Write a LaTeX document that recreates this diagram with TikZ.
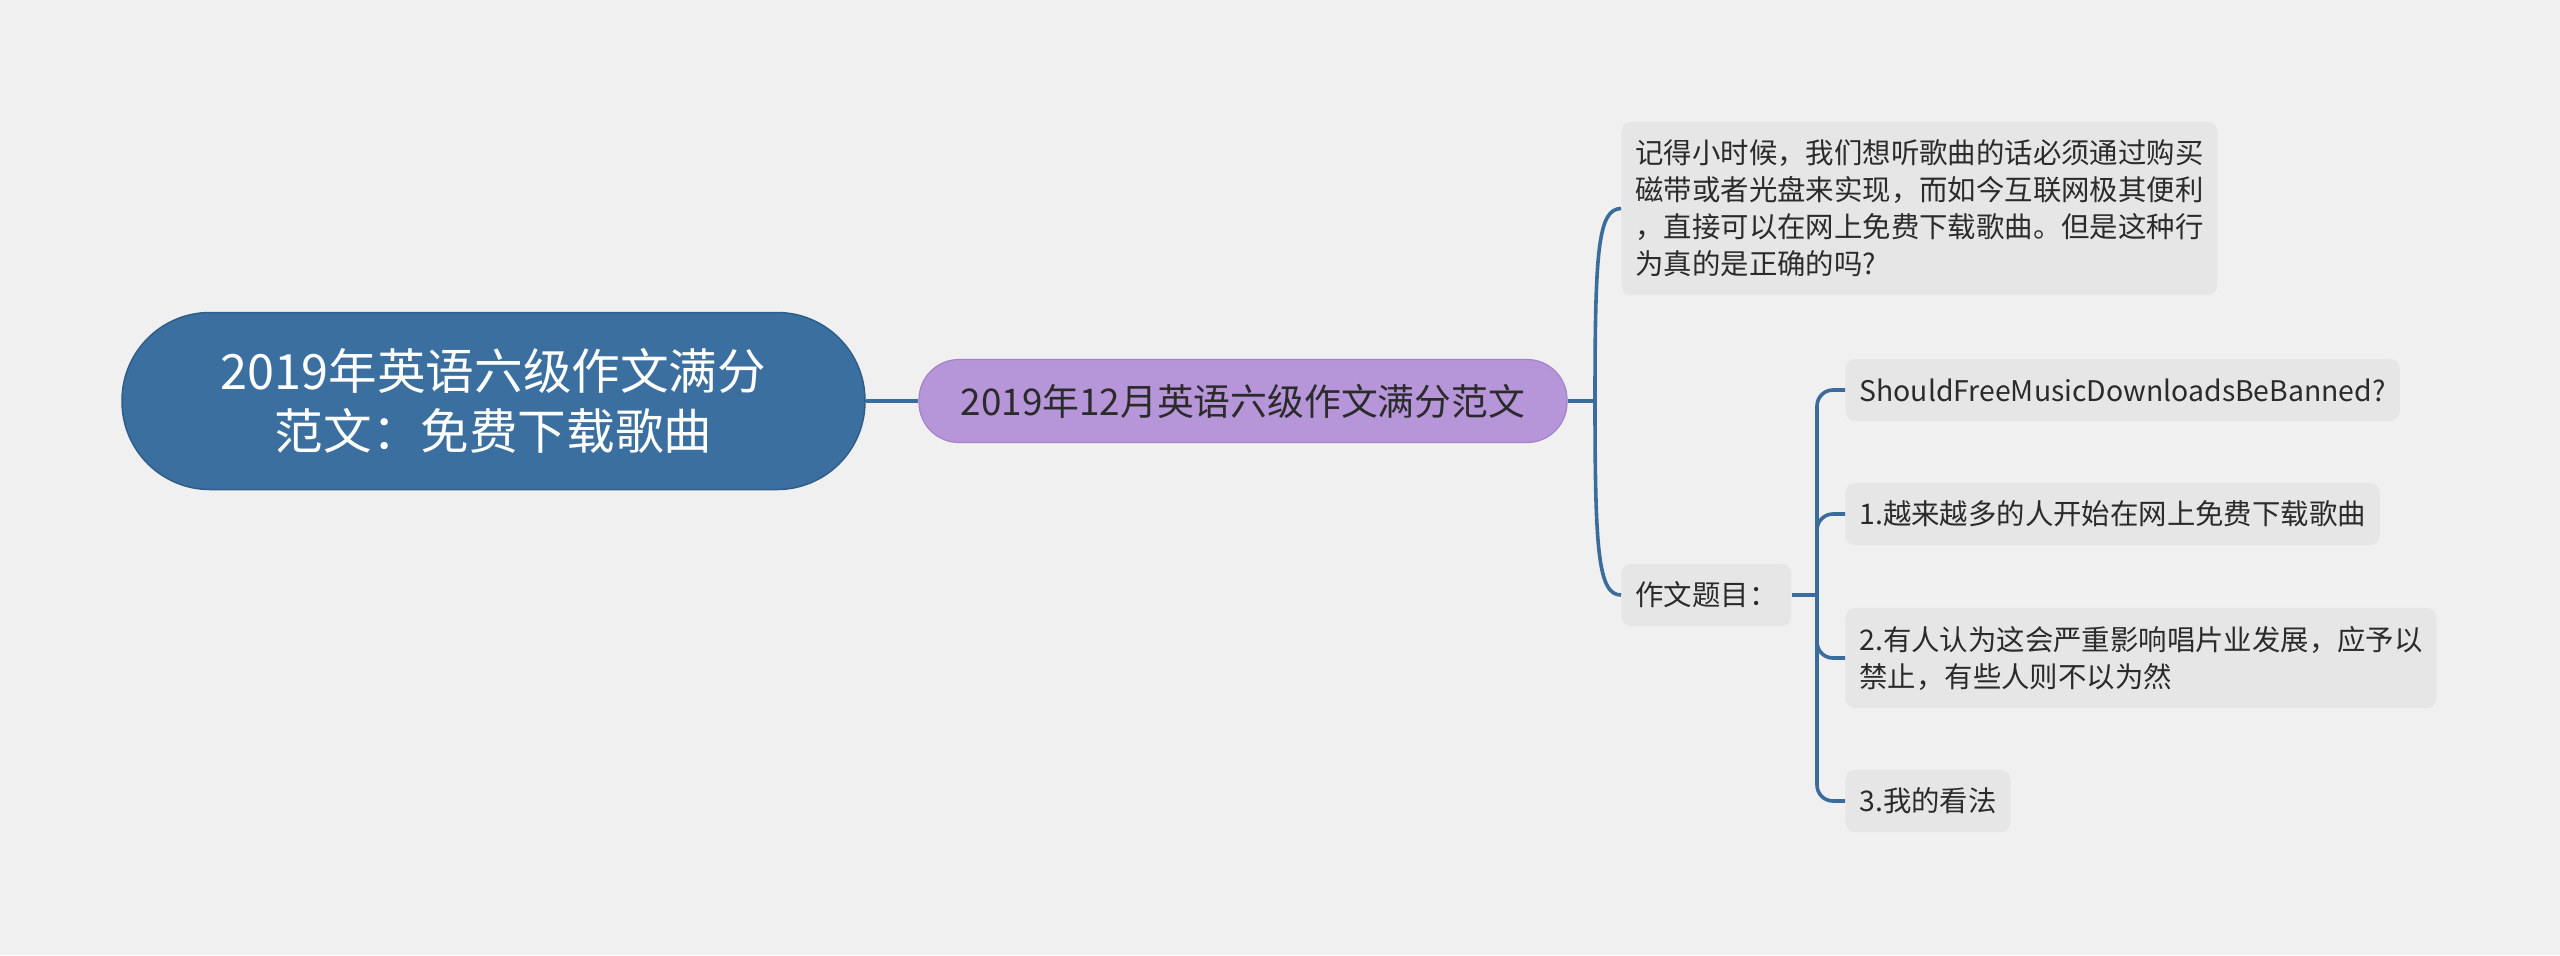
\documentclass[tikz,border=0pt]{standalone}
\usepackage{fontspec}
\setmainfont{Noto Sans CJK SC}
\definecolor{bg}{HTML}{F0F0F0}
\definecolor{rootblue}{HTML}{3B6F9F}
\definecolor{rootborder}{HTML}{2E5E8A}
\definecolor{subpurple}{HTML}{B696D8}
\definecolor{subborder}{HTML}{A483C9}
\definecolor{leafgray}{HTML}{E6E6E6}
\definecolor{textdark}{HTML}{2B2B2B}
\definecolor{connblue}{HTML}{3A6D9C}
\begin{document}
\begin{tikzpicture}[x=0.5pt,y=-0.5pt,
  rootbox/.style={fill=rootblue, draw=rootborder, line width=0.75pt, rounded corners=44pt,
    minimum width=371.5pt, minimum height=88.5pt, text=white, align=center,
    font=\fontsize{24.3pt}{30pt}\selectfont, inner sep=0pt},
  subbox/.style={fill=subpurple, draw=subborder, line width=0.6pt, rounded corners=20pt,
    minimum width=324pt, minimum height=41.5pt, text=textdark,
    font=\fontsize{18.4pt}{22pt}\selectfont, inner sep=0pt},
  leafbox/.style={fill=leafgray, rounded corners=5pt, text=textdark,
    font=\fontsize{14.2pt}{18.5pt}\selectfont, align=left,
    inner xsep=7pt, inner ysep=9pt, anchor=west, minimum height=31pt},
  conn/.style={draw=connblue, line width=1.8pt}
]
\fill[bg] (0,0) rectangle (2560,955);
\useasboundingbox (0,0) rectangle (2560,955);

\node[rootbox] (root) at (493.5,401) {2019年英语六级作文满分\\范文：免费下载歌曲};
\node[subbox] (sub) at (1243,401) {2019年12月英语六级作文满分范文};

\node[leafbox] (l1) at (1621,208.5) {记得小时候，我们想听歌曲的话必须通过购买\\磁带或者光盘来实现，而如今互联网极其便利\\，直接可以在网上免费下载歌曲。但是这种行\\为真的是正确的吗?};
\node[leafbox] (zw) at (1621,595) {作文题目：};

\node[leafbox] (la) at (1845,390) {ShouldFreeMusicDownloadsBeBanned?};
\node[leafbox] (lb) at (1845,514) {1.越来越多的人开始在网上免费下载歌曲};
\node[leafbox] (lc) at (1845,658) {2.有人认为这会严重影响唱片业发展，应予以\\禁止，有些人则不以为然};
\node[leafbox] (ld) at (1845,801) {3.我的看法};

\coordinate (j1) at (1595,401);
\coordinate (j2) at (1817,595);

\draw[conn] (root.east) -- (sub.west);
\draw[conn] (sub.east) -- (j1);
\draw[conn] (j1) .. controls (1595,250) and (1598,209) .. (l1.west);
\draw[conn] (j1) .. controls (1595,550) and (1598,595) .. (zw.west);

\draw[conn] (zw.east) -- (j2);
\draw[conn, rounded corners=8pt] (j2) |- (la.west);
\draw[conn, rounded corners=8pt] (j2) |- (lb.west);
\draw[conn, rounded corners=8pt] (j2) |- (lc.west);
\draw[conn, rounded corners=8pt] (j2) |- (ld.west);
\end{tikzpicture}
\end{document}
